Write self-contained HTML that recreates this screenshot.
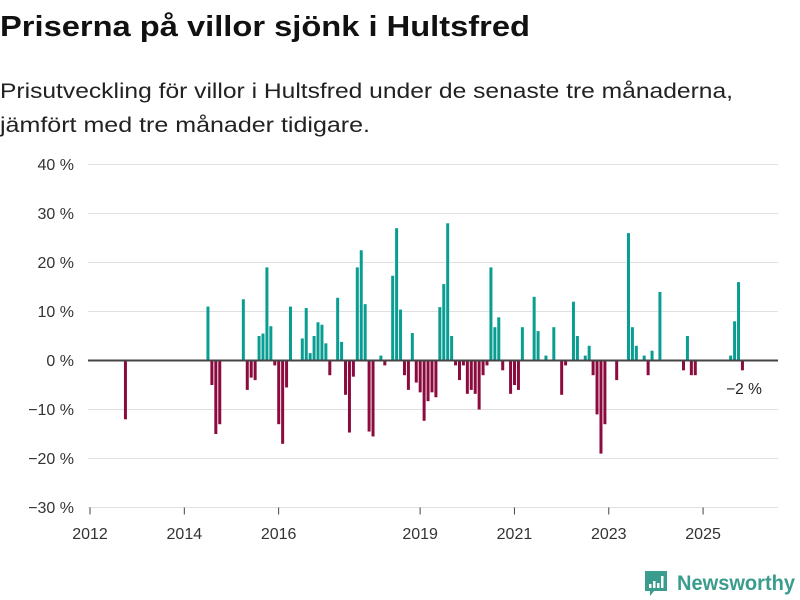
<!DOCTYPE html>
<html><head><meta charset="utf-8"><style>
html,body{margin:0;padding:0;background:#fff;width:800px;height:600px;overflow:hidden;font-family:"Liberation Sans","DejaVu Sans",sans-serif;}
</style></head><body>
<svg width="800" height="600" xmlns="http://www.w3.org/2000/svg">
<text x="0" y="36" font-size="29" font-weight="bold" fill="#111" textLength="530" lengthAdjust="spacingAndGlyphs">Priserna på villor sjönk i Hultsfred</text>
<text x="0" y="98" font-size="21" fill="#222" textLength="733" lengthAdjust="spacingAndGlyphs">Prisutveckling för villor i Hultsfred under de senaste tre månaderna,</text>
<text x="0" y="132" font-size="21" fill="#222" textLength="370" lengthAdjust="spacingAndGlyphs">jämfört med tre månader tidigare.</text>
<g id="grid"></g>
<g id="bars"></g>
<g id="axis"></g>
<text x="744" y="394" font-size="15.5" fill="#222" text-anchor="middle">−2 %</text>
<g>
<path d="M645 571 h22 v20 h-13 l-4 5 v-5 h-5 z" fill="#3a9c8c"/>
<rect x="649" y="584" width="2.5" height="4" fill="#fff"/><rect x="653" y="581" width="2.5" height="7" fill="#fff"/><rect x="657" y="583" width="2.5" height="5" fill="#fff"/><rect x="661" y="576" width="2.5" height="12" fill="#fff"/>
<text x="677" y="590" font-size="21" font-weight="bold" fill="#3a9c8c" textLength="118" lengthAdjust="spacingAndGlyphs">Newsworthy</text>
</g>
</svg>
<script>
const months=["2012-09","2014-06","2014-07","2014-08","2014-09","2015-03","2015-04","2015-05","2015-06","2015-07","2015-08","2015-09","2015-10","2015-11","2015-12","2016-01","2016-02","2016-03","2016-06","2016-07","2016-08","2016-09","2016-10","2016-11","2016-12","2017-01","2017-03","2017-04","2017-05","2017-06","2017-07","2017-08","2017-09","2017-10","2017-11","2017-12","2018-02","2018-03","2018-05","2018-06","2018-07","2018-08","2018-09","2018-10","2018-11","2018-12","2019-01","2019-02","2019-03","2019-04","2019-05","2019-06","2019-07","2019-08","2019-09","2019-10","2019-11","2019-12","2020-01","2020-02","2020-03","2020-04","2020-05","2020-06","2020-07","2020-08","2020-09","2020-11","2020-12","2021-01","2021-02","2021-05","2021-06","2021-08","2021-10","2021-12","2022-01","2022-03","2022-04","2022-06","2022-07","2022-08","2022-09","2022-10","2022-11","2023-02","2023-05","2023-06","2023-07","2023-09","2023-10","2023-11","2024-01","2024-07","2024-08","2024-09","2024-10","2025-07","2025-08","2025-09","2025-10"];
const values=[-12,11,-5,-15,-13,12.5,-6,-3.5,-4,5,5.5,19,7,-1,-13,-17,-5.5,11,4.5,10.7,1.5,5,7.8,7.3,3.5,-3,12.8,3.8,-7,-14.7,-3.3,19,22.5,11.5,-14.5,-15.5,1,-1,17.3,27,10.4,-3,-6,5.6,-4.5,-6.5,-12.3,-8.3,-6.5,-7.5,10.9,15.6,28,5,-1,-4,-1,-6.8,-6,-6.8,-10,-3,-1,19,6.8,8.8,-2,-6.8,-5,-6,6.8,13,6,1,6.8,-7,-1,12,5,1,3,-3,-11,-19,-13,-4,26,6.8,3,1,-3,2,14,-2,5,-3,-3,1,8,16,-2];
const yTicks=[40,30,20,10,0,-10,-20,-30];
const yTickLabels=["40 %","30 %","20 %","10 %","0 %","−10 %","−20 %","−30 %"];
const xTicks=[2012,2014,2016,2019,2021,2023,2025];
const NS="http://www.w3.org/2000/svg";
const y=v=>360.5-v*4.9;
const x=s=>{const [yr,m]=s.split("-").map(Number);return 90+((yr-2012)*12+(m-1))*3.93;};
const xYear=yr=>90+(yr-2012)*12*3.93;
function mk(tag,attrs,parent){const e=document.createElementNS(NS,tag);for(const k in attrs)e.setAttribute(k,attrs[k]);parent.appendChild(e);return e;}
const grid=document.getElementById('grid'),bars=document.getElementById('bars'),axis=document.getElementById('axis');
yTicks.forEach((t,i)=>{
  if(t!==0){const l=mk('line',{x1:88,x2:778,y1:y(t),y2:y(t),stroke:'#e0e0e0','stroke-width':1},grid);
  
  }
  const tx=mk('text',{x:74,y:y(t)+5.5,'font-size':16,fill:'#333','text-anchor':'end'},grid);
  tx.textContent=yTickLabels[i];
  
  
});
months.forEach((m,i)=>{
  const v=values[i];
  const r=mk('rect',{x:x(m)+2.5,width:3,y:Math.min(y(v),y(0)),height:Math.abs(y(v)-y(0)),fill:v>=0?'#0a9e93':'#8c0b3e'},bars);
  
  
});
const zl=mk('line',{x1:88,x2:778,y1:y(0),y2:y(0),stroke:'#444','stroke-width':2},axis);


const bl=mk('line',{x1:88,x2:778,y1:y(-30),y2:y(-30),stroke:'#e0e0e0','stroke-width':1},axis);


xTicks.forEach(t=>{
  const tk=mk('line',{x1:xYear(t),x2:xYear(t),y1:y(-30),y2:y(-30)+7,stroke:'#444','stroke-width':1},axis);
  
  
  const tx=mk('text',{x:xYear(t),y:539,'font-size':16,fill:'#333','text-anchor':'middle'},axis);
  tx.textContent=t;
  
  
});
</script>
</body></html>
